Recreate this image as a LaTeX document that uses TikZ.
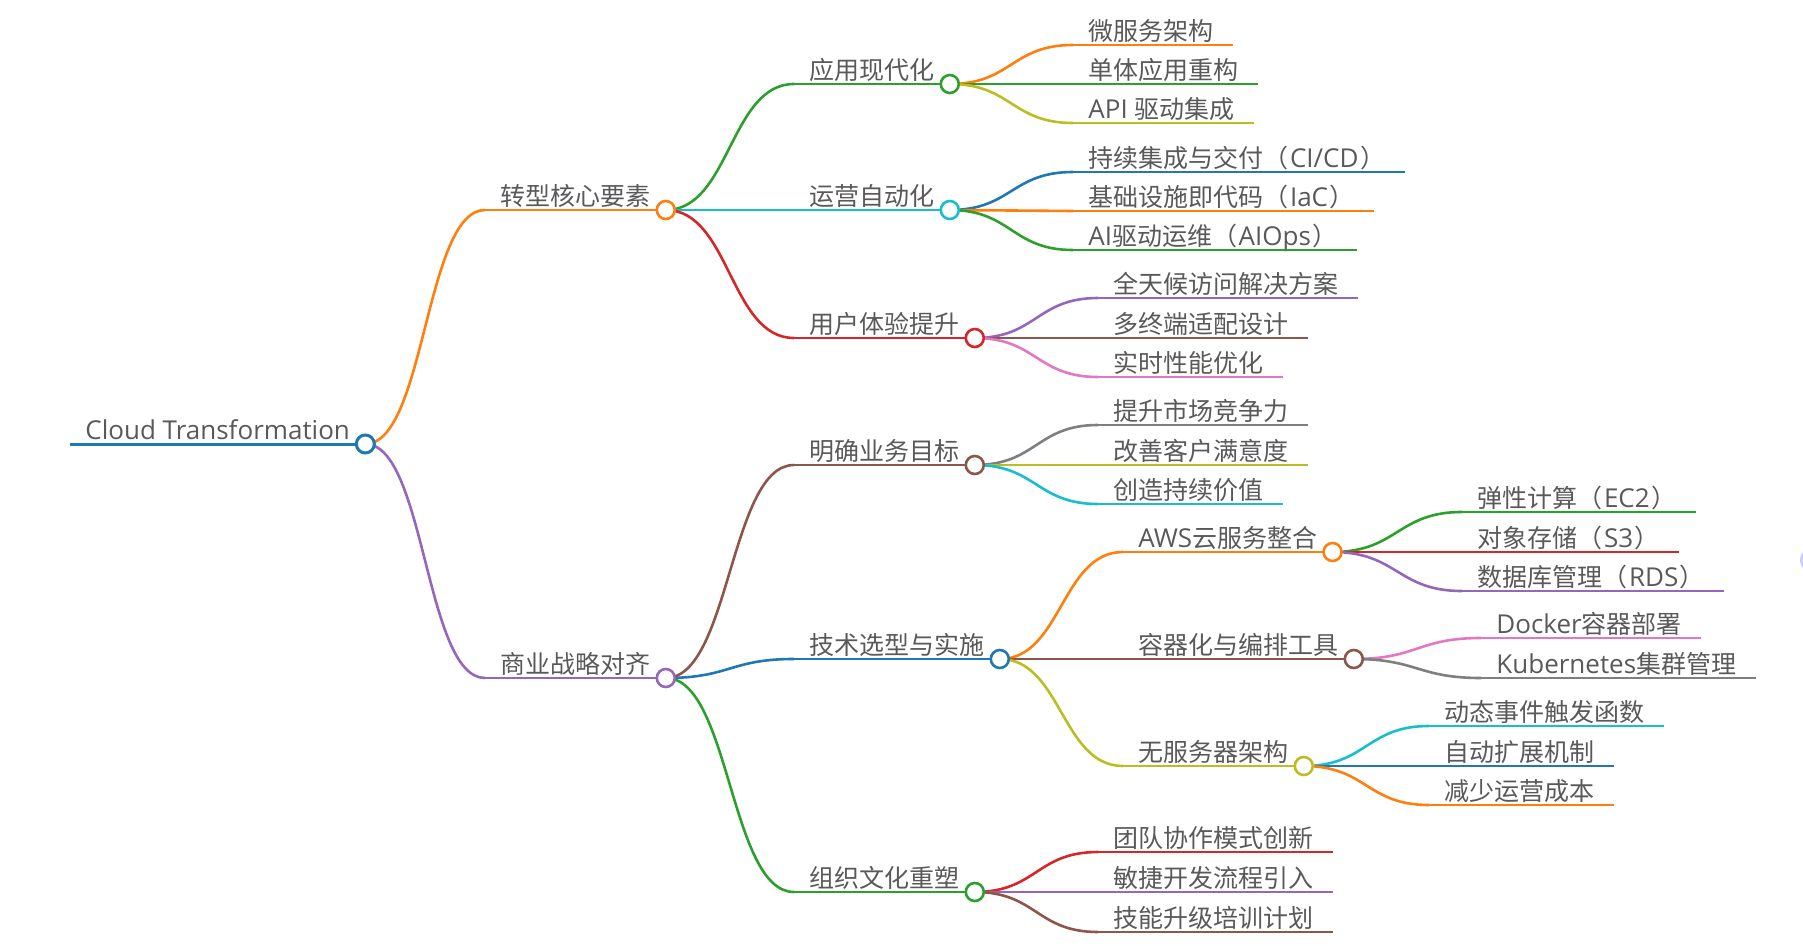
\documentclass[tikz,border=0pt]{standalone}
\usepackage{fontspec}
\setmainfont{Noto Sans CJK SC}
\newfontfamily\latf{Open Sans}
\newcommand\lat{\latf\fontsize{13}{14}\selectfont}
\newcommand\po{（\hspace{0.8pt}}
\newcommand\pc{\hspace{0.8pt}）}
\usetikzlibrary{calc}
\definecolor{txt}{HTML}{595959}
\definecolor{cblue}{HTML}{1F77B4}
\definecolor{corange}{HTML}{FF7F0E}
\definecolor{cgreen}{HTML}{2CA02C}
\definecolor{cred}{HTML}{D62728}
\definecolor{cpurple}{HTML}{9467BD}
\definecolor{cbrown}{HTML}{8C564B}
\definecolor{cpink}{HTML}{E377C2}
\definecolor{cgray}{HTML}{7F7F7F}
\definecolor{colive}{HTML}{BCBD22}
\definecolor{ccyan}{HTML}{17BECF}
\definecolor{cghost}{HTML}{C8CDFD}
\tikzset{
  lab/.style={anchor=south west, inner xsep=7.5pt, inner ysep=0pt, text height=9pt, text depth=2pt,
    font=\fontsize{12.5}{14}\selectfont, text=txt},
  dot/.style={circle, draw=#1, fill=white, line width=1.3pt, minimum size=9pt, inner sep=0pt},
  link/.style={draw=#1, line width=1.3pt},
}
% name, x, y, colour, text  (inner node: underline ends at circle)
\newcommand\mmnode[5]{%
  \node[lab] (#1) at (#2,#3) {#5};
  \draw[link=#4] (#1.south west) -- (#1.south east);
}
% leaf node: underline runs a little past the text
\newcommand\mmleaf[5]{%
  \node[lab] (#1) at (#2,#3) {#5};
  \draw[link=#4] (#1.south west) -- ([xshift=2pt]#1.south east);
}
% from, to, colour
\newcommand\mmlink[3]{%
  \draw[link=#3] let \p1=(#1.south east), \p2=(#2.south west) in
    (\p1) .. controls ({0.5*\x1+0.5*\x2},\y1) and ({0.5*\x1+0.5*\x2},\y2) .. (\p2);
}
\newcommand\mmdot[2]{\node[dot=#2] (#1-c) at (#1.south east) {};}
\begin{document}
\begin{tikzpicture}[x=0.5pt,y=-0.5pt]
\useasboundingbox (0,0) rectangle (1803,946);
% ghost circle at the right edge
\fill[cghost] (1814,560) circle (14);

% root
\node[lab] (root) at (70,444) {\lat Cloud Transformation};
\draw[link=cblue, line width=1.5pt] (root.south west) -- (root.south east);

% level 1
\mmnode{a}{485}{210}{corange}{转型核心要素}
\mmnode{b}{485}{678}{cpurple}{商业战略对齐}
\mmlink{root}{a}{corange}
\mmlink{root}{b}{cpurple}

% level 2
\mmnode{a1}{794}{84}{cgreen}{应用现代化}
\mmnode{a2}{794}{210}{ccyan}{运营自动化}
\mmnode{a3}{794}{338}{cred}{用户体验提升}
\mmnode{b1}{794}{465}{cbrown}{明确业务目标}
\mmnode{b2}{794}{659}{cblue}{技术选型与实施}
\mmnode{b3}{794}{892}{cgreen}{组织文化重塑}
\mmlink{a}{a1}{cgreen}
\mmlink{a}{a2}{ccyan}
\mmlink{a}{a3}{cred}
\mmlink{b}{b1}{cbrown}
\mmlink{b}{b2}{cblue}
\mmlink{b}{b3}{cgreen}

% leaves of a1
\mmleaf{a11}{1073}{45}{corange}{微服务架构}
\mmleaf{a12}{1073}{84}{cgreen}{单体应用重构}
\mmleaf{a13}{1073}{123}{colive}{{\lat API }驱动集成}
\mmlink{a1}{a11}{corange}
\mmlink{a1}{a12}{cgreen}
\mmlink{a1}{a13}{colive}

% leaves of a2
\mmleaf{a21}{1073}{172}{cblue}{持续集成与交付\po{\lat CI/CD}\pc}
\mmleaf{a22}{1073}{211}{corange}{基础设施即代码\po{\lat IaC}\pc}
\mmleaf{a23}{1073}{250}{cgreen}{{\lat AI}驱动运维\po{\lat AIOps}\pc}
\mmlink{a2}{a21}{cblue}
\mmlink{a2}{a22}{corange}
\mmlink{a2}{a23}{cgreen}

% leaves of a3
\mmleaf{a31}{1098}{298}{cpurple}{全天候访问解决方案}
\mmleaf{a32}{1098}{338}{cbrown}{多终端适配设计}
\mmleaf{a33}{1098}{377}{cpink}{实时性能优化}
\mmlink{a3}{a31}{cpurple}
\mmlink{a3}{a32}{cbrown}
\mmlink{a3}{a33}{cpink}

% leaves of b1
\mmleaf{b11}{1098}{425}{cgray}{提升市场竞争力}
\mmleaf{b12}{1098}{465}{colive}{改善客户满意度}
\mmleaf{b13}{1098}{504}{ccyan}{创造持续价值}
\mmlink{b1}{b11}{cgray}
\mmlink{b1}{b12}{colive}
\mmlink{b1}{b13}{ccyan}

% level 3 under b2
\mmnode{b21}{1123}{552}{corange}{{\lat AWS}云服务整合}
\mmnode{b22}{1123}{659}{cbrown}{容器化与编排工具}
\mmnode{b23}{1123}{766}{colive}{无服务器架构}
\mmlink{b2}{b21}{corange}
\mmlink{b2}{b22}{cbrown}
\mmlink{b2}{b23}{colive}

% leaves of b21
\mmleaf{b211}{1462}{512}{cgreen}{弹性计算\po{\lat EC2}\pc}
\mmleaf{b212}{1462}{552}{cred}{对象存储\po{\lat S3}\pc}
\mmleaf{b213}{1462}{591}{cpurple}{数据库管理\po{\lat RDS}\pc}
\mmlink{b21}{b211}{cgreen}
\mmlink{b21}{b212}{cred}
\mmlink{b21}{b213}{cpurple}

% leaves of b22
\mmleaf{b221}{1481}{638}{cpink}{{\lat Docker}容器部署}
\mmleaf{b222}{1481}{678}{cgray}{{\lat Kubernetes}集群管理}
\mmlink{b22}{b221}{cpink}
\mmlink{b22}{b222}{cgray}

% leaves of b23
\mmleaf{b231}{1429}{726}{ccyan}{动态事件触发函数}
\mmleaf{b232}{1429}{766}{cblue}{自动扩展机制}
\mmleaf{b233}{1429}{805}{corange}{减少运营成本}
\mmlink{b23}{b231}{ccyan}
\mmlink{b23}{b232}{cblue}
\mmlink{b23}{b233}{corange}

% leaves of b3
\mmleaf{b31}{1098}{852}{cred}{团队协作模式创新}
\mmleaf{b32}{1098}{892}{cpurple}{敏捷开发流程引入}
\mmleaf{b33}{1098}{932}{cbrown}{技能升级培训计划}
\mmlink{b3}{b31}{cred}
\mmlink{b3}{b32}{cpurple}
\mmlink{b3}{b33}{cbrown}

% circles on top
\node[dot=cblue, line width=1.5pt] (root-c) at (root.south east) {};
\mmdot{a}{corange}
\mmdot{b}{cpurple}
\mmdot{a1}{cgreen}
\mmdot{a2}{ccyan}
\mmdot{a3}{cred}
\mmdot{b1}{cbrown}
\mmdot{b2}{cblue}
\mmdot{b3}{cgreen}
\mmdot{b21}{corange}
\mmdot{b22}{cbrown}
\mmdot{b23}{colive}
\end{tikzpicture}
\end{document}
